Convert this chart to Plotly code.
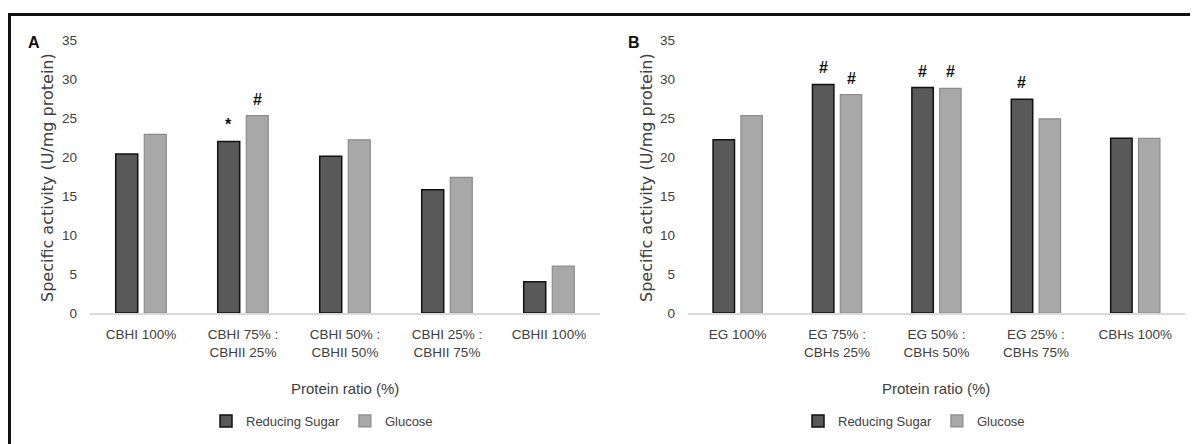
import plotly.graph_objects as go

# ---- data ----
cats_a = ["CBHI 100%", "CBHI 75% :<br>CBHII 25%", "CBHI 50% :<br>CBHII 50%",
          "CBHI 25% :<br>CBHII 75%", "CBHII 100%"]
rs_a = [20.4, 22.0, 20.1, 15.8, 4.0]
glc_a = [22.9, 25.3, 22.2, 17.4, 6.0]
marks_rs_a = ["", "*", "", "", ""]
marks_glc_a = ["", "#", "", "", ""]

cats_b = ["EG 100%", "EG 75% :<br>CBHs 25%", "EG 50% :<br>CBHs 50%",
          "EG 25% :<br>CBHs 75%", "CBHs 100%"]
rs_b = [22.2, 29.3, 28.9, 27.4, 22.4]
glc_b = [25.3, 28.0, 28.8, 24.9, 22.4]
marks_rs_b = ["", "#", "#", "#", ""]
marks_glc_b = ["", "#", "#", "", ""]

y_ticks = [0, 5, 10, 15, 20, 25, 30, 35]

# ---- style ----
W, H = 1198, 444
OX, OY = 8, 8          # page body margin offset
FONT = "Liberation Sans Narrow, Liberation Sans, Arial, sans-serif"
TXT = "#404040"
RS_FILL, RS_LINE = "#595959", "#111111"
GL_FILL, GL_LINE = "#a8a8a8", "#8c8c8c"
BARGAP, GROUPGAP = 0.44, 0.23
off = (1 - BARGAP) / 4

def py(px):  # page pixel from top -> paper y
    return 1 - (px - OY) / H

def px_x(px):  # page pixel from left -> paper x
    return (px - OX) / W

fig = go.Figure()
panels = [
    ("x", "y", cats_a, rs_a, glc_a, marks_rs_a, marks_glc_a, "legend"),
    ("x2", "y2", cats_b, rs_b, glc_b, marks_rs_b, marks_glc_b, "legend2"),
]
for xa, ya, cats, rs, glc, mrs, mgl, lg in panels:
    idx = list(range(len(cats)))
    fig.add_trace(go.Bar(x=idx, y=rs, name="Reducing Sugar", xaxis=xa, yaxis=ya,
                         marker=dict(color=RS_FILL, line=dict(color=RS_LINE, width=1.5)),
                         legend=lg))
    fig.add_trace(go.Bar(x=idx, y=glc, name="Glucose", xaxis=xa, yaxis=ya,
                         marker=dict(color=GL_FILL, line=dict(color=GL_LINE, width=1.2)),
                         legend=lg))
    for i in idx:
        for val, m, sgn in ((rs[i], mrs[i], -1), (glc[i], mgl[i], 1)):
            if m:
                fig.add_annotation(x=i + sgn * off, y=val, xref=xa, yref=ya, text="<b>" + m + "</b>",
                                   showarrow=False, xanchor="center", yanchor="bottom", yshift=6,
                                   font=dict(family="Liberation Sans", size=16, color="#111111"))

dom_a = [px_x(90), px_x(600)]
dom_b = [px_x(688), px_x(1185)]
ydom = [py(313), py(40)]

axis_common = dict(showgrid=False, zeroline=False, showline=True, linecolor="#d9d9d9",
                   linewidth=2, ticks="", tickfont=dict(family=FONT, size=13.5, color=TXT),
                   range=[-0.5, 4.5], ticklabelstandoff=8, fixedrange=True, automargin=False)
fig.update_layout(
    xaxis=dict(domain=dom_a, anchor="y", tickvals=list(range(5)), ticktext=cats_a, **axis_common),
    xaxis2=dict(domain=dom_b, anchor="y2", tickvals=list(range(5)), ticktext=cats_b, **axis_common),
)
yaxis_common = dict(domain=ydom, range=[0, 35], tickvals=y_ticks, showgrid=False, zeroline=False,
                    showline=False, ticks="", ticklabelstandoff=12, automargin=False,
                    tickfont=dict(family=FONT, size=13.5, color=TXT), fixedrange=True)
fig.update_layout(yaxis=dict(anchor="x", **yaxis_common), yaxis2=dict(anchor="x2", **yaxis_common))

# axis titles and panel letters
for xc, ptxt_x, letter_x, letter in ((47, 345, 34, "A"), (646, 936, 634, "B")):
    fig.add_annotation(x=px_x(xc), y=py(178), xref="paper", yref="paper",
                       xanchor="center", yanchor="middle",
                       text="Specific activity (U/mg protein)", textangle=-90, showarrow=False,
                       font=dict(family="DejaVu Sans", size=16, color=TXT))
    fig.add_annotation(x=px_x(ptxt_x), y=py(388), xref="paper", yref="paper",
                       xanchor="center", yanchor="middle",
                       text="Protein ratio (%)", showarrow=False,
                       font=dict(family=FONT, size=15, color=TXT))
    fig.add_annotation(x=px_x(letter_x), y=py(43), xref="paper", yref="paper",
                       xanchor="center", yanchor="middle",
                       text="<b>" + letter + "</b>", showarrow=False,
                       font=dict(family="Liberation Sans", size=16, color="#111111"))

legend_common = dict(orientation="h", yanchor="middle", xanchor="center",
                     font=dict(family=FONT, size=13, color=TXT), bgcolor="rgba(0,0,0,0)",
                     itemclick=False, itemdoubleclick=False)
fig.update_layout(
    legend=dict(x=px_x(322), y=py(421), **legend_common),
    legend2=dict(x=px_x(914), y=py(421), **legend_common),
)

# outer frame
fig.add_shape(type="rect", xref="paper", yref="paper", x0=px_x(9.5), x1=1.02, y0=-0.05, y1=py(14.5),
              line=dict(color="#111111", width=3))

fig.update_layout(width=W, height=H, margin=dict(l=0, r=0, t=0, b=0, autoexpand=False),
                  paper_bgcolor="white", plot_bgcolor="white", barmode="group",
                  bargap=BARGAP, bargroupgap=GROUPGAP, showlegend=True)

fig.write_html("out.html", config={"displayModeBar": False})
